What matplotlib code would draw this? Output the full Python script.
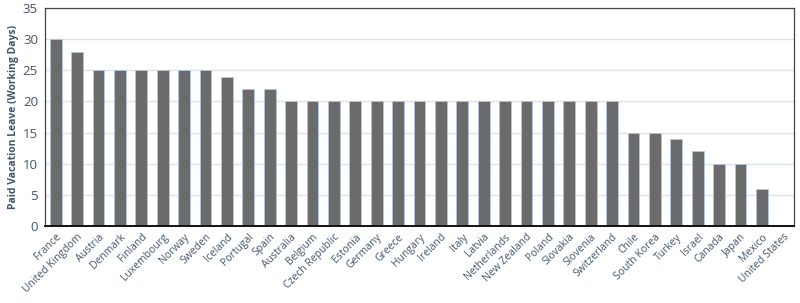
import matplotlib
matplotlib.use("Agg")
import matplotlib.pyplot as plt

countries = ["France", "United Kingdom", "Austria", "Denmark", "Finland", "Luxembourg",
             "Norway", "Sweden", "Iceland", "Portugal", "Spain", "Australia", "Belgium",
             "Czech Republic", "Estonia", "Germany", "Greece", "Hungary", "Ireland", "Italy",
             "Latvia", "Netherlands", "New Zealand", "Poland", "Slovakia", "Slovenia",
             "Switzerland", "Chile", "South Korea", "Turkey", "Israel", "Canada", "Japan",
             "Mexico", "United States"]
days = [30, 28, 25, 25, 25, 25, 25, 25, 24, 22, 22, 20, 20, 20, 20, 20, 20, 20, 20, 20,
        20, 20, 20, 20, 20, 20, 20, 15, 15, 14, 12, 10, 10, 6, 0]
yticks = [0, 5, 10, 15, 20, 25, 30, 35]

plt.rcParams['font.family'] = ['Open Sans', 'DejaVu Sans']
txt = '#44546a'

fig = plt.figure(figsize=(8, 3.03), dpi=100)
ax = fig.add_axes([0.05625, 0.254, 0.9362, 0.7196])
x = range(len(countries))
ax.bar(x, days, width=0.55, color='#6b6b6b', edgecolor='#b4c7dc', linewidth=0.6, zorder=3)
ax.set_xlim(-0.5, len(countries) - 0.5)
ax.set_ylim(0, 35)
ax.set_yticks(yticks)
ax.yaxis.grid(True, color='#dde3ec', linewidth=1.0, zorder=0)
ax.set_xticks(list(x))
ax.set_xticklabels(countries, rotation=45, ha='right', rotation_mode='anchor',
                   fontsize=7.5, color=txt)
ax.tick_params(axis='x', length=0, pad=4)
ax.tick_params(axis='y', length=0, labelsize=9.5, labelcolor=txt, pad=5)
ax.set_ylabel('Paid Vacation Leave (Working Days)', fontsize=7.5, fontweight='bold',
              color=txt, labelpad=3)
for s in ['top', 'right', 'left']:
    ax.spines[s].set_color('#444444')
    ax.spines[s].set_linewidth(0.9)
ax.spines['bottom'].set_color('#111111')
ax.spines['bottom'].set_linewidth(1.4)
ax.spines['bottom'].set_zorder(4)
fig.savefig('out.png', dpi=100)
